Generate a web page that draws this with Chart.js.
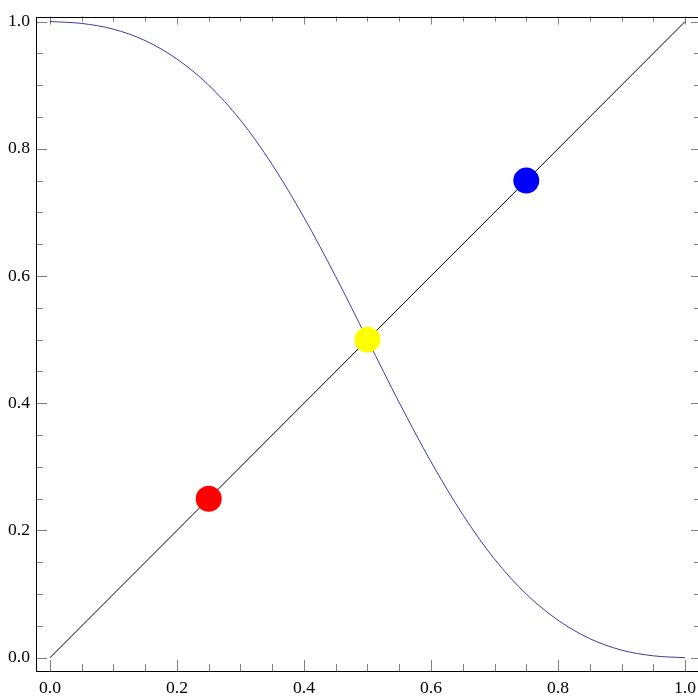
<!DOCTYPE html>
<html>
<head>
<meta charset="utf-8">
<script src="https://cdn.jsdelivr.net/npm/chart.js@4/dist/chart.umd.min.js"></script>
<style>
  html, body { margin: 0; padding: 0; background: #fff; overflow: hidden; }
  #wrap { width: 712px; height: 696px; }
</style>
</head>
<body>
<div id="wrap"><canvas id="c" width="712" height="696"></canvas></div>
<script>
// Falling curve, sampled every 0.05
const curveX = [0, 0.05, 0.1, 0.15, 0.2, 0.25, 0.3, 0.35, 0.4, 0.45, 0.5,
                0.55, 0.6, 0.65, 0.7, 0.75, 0.8, 0.85, 0.9, 0.95, 1];
const curveY = [1.000, 0.997, 0.988, 0.970, 0.941, 0.900, 0.845, 0.775, 0.692, 0.599, 0.500,
                0.401, 0.308, 0.225, 0.155, 0.100, 0.059, 0.030, 0.012, 0.003, 0.000];

// Diagonal line end points
const diagX = [0, 1];
const diagY = [0, 1];

// Marked points on the diagonal
const dotX = [0.25, 0.5, 0.75];
const dotY = [0.25, 0.5, 0.75];
const dotColors = ['#ff0000', '#ffff00', '#0000ff'];

// Tick positions
const majorTicks = [0, 0.2, 0.4, 0.6, 0.8, 1.0];
const minorTicks = [0.05, 0.1, 0.15, 0.25, 0.3, 0.35, 0.45, 0.5, 0.55, 0.65, 0.7, 0.75, 0.85, 0.9, 0.95];

const toPts = (xs, ys) => xs.map((x, i) => ({ x: x, y: ys[i] }));

// Frame with inward ticks on all four sides
const framePlugin = {
  id: 'frame',
  beforeDatasetsDraw(chart) {
    const { ctx, chartArea: a, scales: { x, y } } = chart;
    ctx.save();
    ctx.lineWidth = 1;
    ctx.strokeStyle = '#808080';
    ctx.beginPath();
    const tick = (list, lenOuter, lenInner) => {
      list.forEach(v => {
        const px = Math.round(x.getPixelForValue(v)) + 0.5;
        ctx.moveTo(px, a.bottom); ctx.lineTo(px, a.bottom - lenOuter);
        ctx.moveTo(px, a.top); ctx.lineTo(px, a.top + lenInner);
        const py = Math.round(y.getPixelForValue(v)) + 0.5;
        ctx.moveTo(a.left, py); ctx.lineTo(a.left + lenOuter, py);
        ctx.moveTo(a.right, py); ctx.lineTo(a.right - lenInner, py);
      });
    };
    tick(majorTicks, 11, 8);
    tick(minorTicks, 7, 5);
    ctx.stroke();
    ctx.strokeStyle = '#000';
    ctx.strokeRect(Math.round(a.left) + 0.5, Math.round(a.top) + 0.5,
                   Math.round(a.right - a.left), Math.round(a.bottom - a.top));
    ctx.restore();
  }
};

const setTicks = scale => { scale.ticks = majorTicks.map(v => ({ value: v })); };

new Chart(document.getElementById('c'), {
  type: 'scatter',
  data: {
    datasets: [
      {
        data: toPts(dotX, dotY),
        pointRadius: 13,
        pointHoverRadius: 13,
        pointBackgroundColor: dotColors,
        pointBorderWidth: 0,
        showLine: false,
        order: 0
      },
      {
        data: toPts(diagX, diagY),
        showLine: true,
        borderColor: '#000000',
        borderWidth: 1,
        pointRadius: 0,
        order: 1
      },
      {
        data: toPts(curveX, curveY),
        showLine: true,
        borderColor: '#3d3d99',
        borderWidth: 1,
        pointRadius: 0,
        cubicInterpolationMode: 'monotone',
        order: 2
      }
    ]
  },
  options: {
    responsive: false,
    animation: false,
    events: [],
    layout: { padding: { top: 15, right: 11, left: 0, bottom: 0 } },
    plugins: { legend: { display: false }, tooltip: { enabled: false } },
    scales: {
      x: {
        type: 'linear',
        min: -0.02198,
        max: 1.02198,
        border: { display: false },
        grid: { display: false, drawTicks: false },
        afterBuildTicks: setTicks,
        afterFit: s => { s.height = 25; },
        ticks: {
          padding: 7,
          color: '#000',
          maxRotation: 0,
          autoSkip: false,
          font: { family: '"Liberation Serif", serif', size: 17.6 },
          callback: v => Number(v).toFixed(1)
        }
      },
      y: {
        type: 'linear',
        min: -0.02086,
        max: 1.00784,
        border: { display: false },
        grid: { display: false, drawTicks: false },
        afterBuildTicks: setTicks,
        afterFit: s => { s.width = 36; },
        ticks: {
          padding: 6,
          color: '#000',
          autoSkip: false,
          font: { family: '"Liberation Serif", serif', size: 17.6 },
          callback: v => Number(v).toFixed(1)
        }
      }
    }
  },
  plugins: [framePlugin]
});
</script>
</body>
</html>
